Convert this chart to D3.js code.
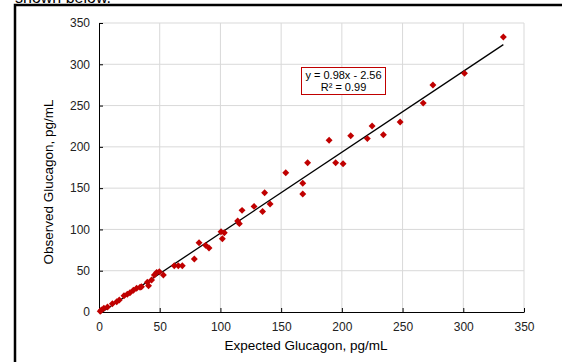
<!DOCTYPE html>
<html>
<head>
<meta charset="utf-8">
<script src="https://cdn.jsdelivr.net/npm/d3@7"></script>
<style>
  body { margin: 0; background: #fff; }
  text { font-family: "Liberation Sans", Arial, sans-serif; }
</style>
</head>
<body>
<script>
var w = 562, h = 362;

// expected vs observed glucagon (pg/mL)
var expected = [1, 2, 4, 7, 11, 14.6, 16.7, 20.6, 23.3, 25.5, 28.3, 31, 33.8, 35, 39.8, 40.8, 43.3, 45.6, 47.5, 49.7, 53,
  62, 65.3, 68.6, 78.5, 82.4, 87.8, 90.6, 100.5, 103.2, 101.6, 114.2, 115.6, 117.8, 127.7, 134.7, 136.4, 140.9,
  153.8, 167.8, 167.8, 171.8, 189.5, 194.9, 201, 207.3, 221, 224.9, 234.2, 248, 267, 275, 301, 333];
var observed = [1, 2.4, 4.5, 6, 10, 12.5, 14.5, 19.7, 21.4, 23.4, 26.3, 28.7, 29.9, 30.6, 36, 31.8, 38.7, 44.8, 48, 48.8, 44.8,
  56, 56, 56, 64.2, 83.9, 80.7, 77.5, 97.2, 96, 88.8, 110.2, 107, 123.1, 127.9, 121.8, 144.4, 130.8,
  168.7, 156, 143, 180.8, 207.9, 180.8, 179.6, 213.5, 210, 225.2, 214.7, 230, 253, 275, 289, 333];
var ticks = [0, 50, 100, 150, 200, 250, 300, 350];
var slope = 0.98, intercept = -2.56;
var eqLines = ["y = 0.98x - 2.56", "R\u00b2 = 0.99"];

var points = expected.map(function(d, i) {
    return { x: d, y: observed[i] };
});

var svg = d3.select("body")
  .append("svg")
  .attr("width", w)
  .attr("height", h);

// cut-off text and frame from the page it was taken from
svg.append("text")
  .attr("x", 15)
  .attr("y", 2.5)
  .style("font-size", "16px")
  .text("shown below.");

svg.append("path")
  .attr("d", "M15," + h + "V5H" + w)
  .attr("fill", "none")
  .attr("stroke", "#000")
  .attr("stroke-width", 2.5);

var x = d3.scaleLinear().domain([0, 350]).range([99, 524]);
var y = d3.scaleLinear().domain([0, 350]).range([312, 23]);

// gridlines
svg.selectAll(".vgrid")
  .data(ticks.slice(1))
  .enter()
  .append("line")
  .attr("class", "vgrid")
  .attr("x1", function(d) { return x(d); })
  .attr("x2", function(d) { return x(d); })
  .attr("y1", y(0))
  .attr("y2", y(350))
  .attr("stroke", "#d9d9d9");

svg.selectAll(".hgrid")
  .data(ticks.slice(1))
  .enter()
  .append("line")
  .attr("class", "hgrid")
  .attr("x1", x(0))
  .attr("x2", x(350))
  .attr("y1", function(d) { return y(d); })
  .attr("y2", function(d) { return y(d); })
  .attr("stroke", "#d9d9d9");

// axes, ticks inside
var xAxis = d3.axisBottom(x).tickValues(ticks).tickSizeInner(-4).tickSizeOuter(0).tickPadding(10);
var yAxis = d3.axisLeft(y).tickValues(ticks).tickSizeInner(-4).tickSizeOuter(0).tickPadding(9);

var gx = svg.append("g")
  .attr("transform", "translate(0," + y(0) + ")")
  .call(xAxis);
var gy = svg.append("g")
  .attr("transform", "translate(" + x(0) + ",0)")
  .call(yAxis);

[gx, gy].forEach(function(g) {
    g.select(".domain").attr("stroke", "#000");
    g.selectAll(".tick line").attr("stroke", "#000");
    g.selectAll(".tick text")
      .style("font-size", "12px")
      .attr("fill", "#222");
});

// trend line over the data range
var xMin = d3.min(expected), xMax = d3.max(expected);
svg.append("line")
  .attr("x1", x(xMin))
  .attr("y1", y(slope * xMin + intercept))
  .attr("x2", x(xMax))
  .attr("y2", y(slope * xMax + intercept))
  .attr("stroke", "#000")
  .attr("stroke-width", 1.3);

// diamond markers
svg.selectAll(".pt")
  .data(points)
  .enter()
  .append("path")
  .attr("class", "pt")
  .attr("d", d3.symbol().type(d3.symbolSquare).size(24))
  .attr("transform", function(d) {
      return "translate(" + x(d.x) + "," + y(d.y) + ") rotate(45)";
  })
  .attr("fill", "#c00000");

// equation box
svg.append("rect")
  .attr("x", 301.5)
  .attr("y", 67.5)
  .attr("width", 84)
  .attr("height", 27)
  .attr("fill", "#fff")
  .attr("stroke", "#c00000")
  .attr("stroke-width", 1);

svg.selectAll(".eq")
  .data(eqLines)
  .enter()
  .append("text")
  .attr("class", "eq")
  .attr("x", 343.5)
  .attr("y", function(d, i) { return 79 + i * 12; })
  .attr("text-anchor", "middle")
  .style("font-size", "11px")
  .text(function(d) { return d; });

// axis titles
svg.append("text")
  .attr("x", 306)
  .attr("y", 350)
  .attr("text-anchor", "middle")
  .style("font-size", "13.5px")
  .text("Expected Glucagon, pg/mL");

svg.append("text")
  .attr("transform", "translate(53,182) rotate(-90)")
  .attr("text-anchor", "middle")
  .style("font-size", "13.5px")
  .text("Observed Glucagon, pg/mL");
</script>
</body>
</html>
